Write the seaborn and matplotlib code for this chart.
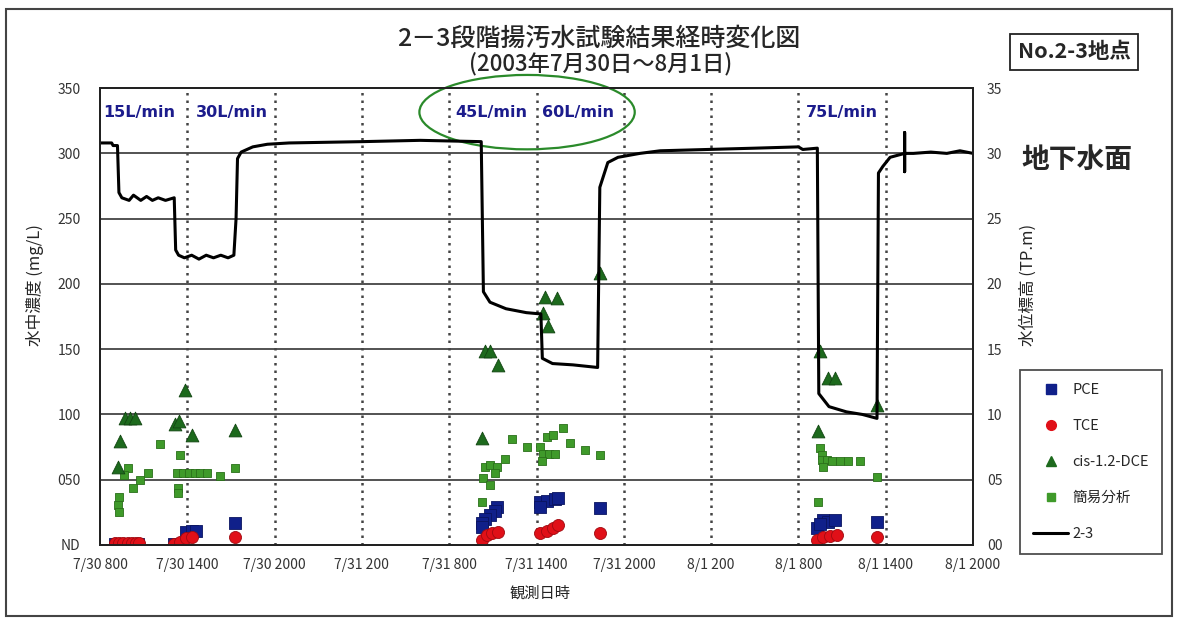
import pandas as pd
import matplotlib
matplotlib.use('Agg')
import matplotlib.pyplot as plt
from matplotlib.lines import Line2D
from matplotlib.patches import Ellipse, Rectangle
import seaborn as sns

# ---- data (x = hours counted from 7/30 8:00) ----
kani_h = [4.1, 5.5, 5.3, 5.7, 6.1, 6.5, 6.9, 7.35, 8.25, 9.3, 1.9, 1.65, 2.3, 2.75, 3.3, 1.3, 1.25, 1.3, 5.35, 5.35,
          28.3, 29.35, 27.85, 26.45, 26.8, 27.3, 27.15, 26.3, 26.8, 26.25,
          30.7, 31.1, 31.8, 30.25, 30.45, 30.85, 31.25, 30.4, 32.3, 33.3, 34.35,
          49.5, 49.6, 49.6, 49.95, 50.3, 50.85, 51.4, 49.7, 52.2, 53.4, 49.35]
kani_v = [77, 69, 55, 55, 55, 55, 55, 55, 53, 59, 59, 54, 44, 50, 55, 37, 31, 25, 44, 40,
          81, 75, 66, 60, 61, 60, 55, 51, 46, 33,
          83, 84, 90, 75, 70, 70, 70, 64, 78, 73, 69,
          74, 69, 65, 65, 64, 64, 64, 60, 64, 52, 33]

dce_h = [1.7, 2.05, 2.4, 1.35, 1.25, 5.85, 5.15, 5.4, 6.3, 9.3,
         26.45, 26.8, 27.35, 26.25, 30.6, 31.4, 30.45, 30.8, 34.35,
         49.5, 50.0, 50.5, 53.4, 49.35]
dce_v = [97, 97, 97, 80, 60, 119, 93, 95, 84, 88,
         149, 149, 138, 82, 190, 189, 178, 168, 208,
         149, 128, 128, 107, 87]

pce_h = [1.0, 1.4, 1.8, 2.2, 2.6, 5.1, 5.5, 5.9, 6.3, 6.6, 9.3,
         27.3, 27.15, 26.8, 26.45, 26.25, 26.25, 30.25, 30.7, 31.3, 31.5, 30.25, 34.35,
         49.7, 50.0, 50.5, 49.3, 49.5, 53.4]
pce_v = [1, 1, 1, 1, 1, 1, 1, 10, 11, 11, 17,
         29, 26, 23, 20, 17, 14, 33, 34, 35, 36, 29, 28,
         19, 18, 19, 13, 16, 18]

tce_h = [1.0, 1.3, 1.6, 1.9, 2.2, 2.5, 2.7, 5.1, 5.5, 5.9, 6.3, 9.3,
         26.25, 26.6, 26.95, 27.35, 30.25, 30.7, 31.15, 31.5, 34.35,
         49.3, 49.7, 50.15, 50.65, 53.4]
tce_v = [1.5, 1.5, 1.5, 1.5, 1.5, 1.5, 1.5, 0.5, 2, 5, 6, 6,
         4, 8, 9, 10, 9, 11, 13, 15, 9,
         4, 6, 7, 8, 6]

level_h = [0.0, 0.8, 0.9, 1.2, 1.3, 1.5, 2.0, 2.3, 2.8, 3.2, 3.6, 4.0, 4.5, 5.1,
           5.2, 5.4, 5.8, 6.3, 6.8, 7.3, 7.8, 8.3, 8.8, 9.2,
           9.35, 9.45, 9.7, 10.5, 11.5, 13.0, 18.0, 22.0, 26.2,
           26.35, 26.8, 27.9, 29.3, 30.3,
           30.4, 31.1, 32.5, 34.2,
           34.35, 34.9, 35.6, 37.1, 38.5, 45.0, 48.0, 48.3, 49.3,
           49.4, 50.1, 51.3, 52.4, 53.4,
           53.5, 53.8, 54.3, 55.3, 55.3, 55.3, 55.3, 55.9, 57.1, 58.2, 59.1, 60.0]
level_v = [30.8, 30.8, 30.6, 30.6, 27.0, 26.6, 26.4, 26.8, 26.4, 26.7, 26.4, 26.6, 26.4, 26.6,
           22.6, 22.2, 22.0, 22.2, 21.9, 22.2, 22.0, 22.2, 22.0, 22.2,
           25.0, 29.6, 30.1, 30.5, 30.7, 30.8, 30.9, 31.0, 30.9,
           19.4, 18.6, 18.1, 17.8, 17.7,
           14.3, 13.9, 13.8, 13.6,
           27.4, 29.3, 29.7, 30.0, 30.2, 30.4, 30.5, 30.3, 30.4,
           11.6, 10.6, 10.2, 10.0, 9.7,
           28.5, 29.0, 29.7, 30.0, 31.6, 28.6, 30.0, 30.0, 30.1, 30.0, 30.2, 30.0]

rate_labels = ['15L/min', '30L/min', '45L/min', '60L/min', '75L/min']
rate_h = [0.25, 6.6, 24.4, 30.4, 48.5]

xtick_h = [0, 6, 12, 18, 24, 30, 36, 42, 48, 54, 60]
xtick_labels = ['7/30 800', '7/30 1400', '7/30 2000', '7/31 200', '7/31 800', '7/31 1400',
                '7/31 2000', '8/1 200', '8/1 800', '8/1 1400', '8/1 2000']
yleft_ticks = [0, 50, 100, 150, 200, 250, 300, 350]
yleft_labels = ['ND', '050', '100', '150', '200', '250', '300', '350']
yright_ticks = [0, 5, 10, 15, 20, 25, 30, 35]
yright_labels = ['00', '05', '10', '15', '20', '25', '30', '35']

sns.set_style('white')
plt.rcParams['font.family'] = ['Noto Sans CJK JP', 'DejaVu Sans']

fig = plt.figure(figsize=(11.78, 6.25), dpi=100)
ax = fig.add_axes([0.0849, 0.128, 0.7411, 0.731])

# grid lines
for y in [50, 100, 150, 200, 250, 300]:
    ax.axhline(y, color='#444444', lw=1.3, zorder=1)
for x in xtick_h[1:-1]:
    ax.axvline(x, color='#444444', lw=1.8, ls=(0, (1, 2)), zorder=1)

series = [
    ('簡易分析', kani_h, kani_v, 's', '#3f9a2a', '#2a6f1a', 40),
    ('cis-1.2-DCE', dce_h, dce_v, '^', '#1d6a1d', '#124512', 85),
    ('PCE', pce_h, pce_v, 's', '#10208a', '#0a1460', 75),
    ('TCE', tce_h, tce_v, 'o', '#e01018', '#a00a10', 75),
]
for name, hh, vv, mk, col, edge, sz in series:
    d = pd.DataFrame({'h': hh, 'v': vv})
    sns.scatterplot(data=d, x='h', y='v', ax=ax, marker=mk, color=col, edgecolor=edge,
                    linewidth=0.6, s=sz, zorder=3, legend=False)

ax.set_xlim(0, 60)
ax.set_ylim(0, 350)
ax.set_xticks(xtick_h)
ax.set_xticklabels(xtick_labels)
ax.set_yticks(yleft_ticks)
ax.set_yticklabels(yleft_labels)
ax.set_xlabel('')
ax.set_ylabel('')
ax.tick_params(axis='both', length=0, labelsize=10, labelcolor='#333333')
ax.tick_params(axis='y', pad=14)
ax.tick_params(axis='x', pad=9)
for sp in ax.spines.values():
    sp.set_color('#222222')
    sp.set_linewidth(1.4)

# flow rate labels
for lab, h in zip(rate_labels, rate_h):
    ax.text(h, 331, lab, color='#1c1c8c', fontweight='bold', fontsize=11.5, va='center', ha='left',
            family=['DejaVu Sans'], zorder=4)

ax.add_patch(Ellipse((29.35, 331.6), 14.8, 57, fill=False, edgecolor='#2a8a2a', lw=1.6,
                     clip_on=False, zorder=5))

# water level on right axis
ax2 = ax.twinx()
sns.lineplot(x=level_h, y=level_v, ax=ax2, color='black', lw=2.2, sort=False, estimator=None)
ax2.set_ylim(0, 35)
ax2.set_xlim(0, 60)
ax2.set_yticks(yright_ticks)
ax2.set_yticklabels(yright_labels)
ax2.tick_params(axis='y', length=0, labelsize=10, labelcolor='#333333', pad=10)
ax2.set_ylabel('')
for sp in ax2.spines.values():
    sp.set_color('#222222')
    sp.set_linewidth(1.4)

# texts around the plot
fig.text(0.508, 0.938, '2－3段階揚汚水試験結果経時変化図', ha='center', va='center',
         fontsize=18, fontweight='medium')
fig.text(0.51, 0.899, '(2003年7月30日～8月1日)', ha='center', va='center', fontsize=16,
         fontweight='medium')
fig.text(0.912, 0.917, 'No.2-3地点', ha='center', va='center', fontsize=15.5, fontweight='bold',
         bbox=dict(boxstyle='square,pad=0.35', fc='white', ec='#222222', lw=1.3))
fig.text(0.867, 0.744, '地下水面', ha='left', va='center', fontsize=20, fontweight='bold')
fig.text(0.030, 0.544, '水中濃度 (mg/L)', rotation=90, ha='center', va='center', fontsize=12)
fig.text(0.873, 0.544, '水位標高 (TP.m)', rotation=90, ha='center', va='center', fontsize=12)
fig.text(0.458, 0.051, '観測日時', ha='center', va='center', fontsize=11)

handles = [
    Line2D([], [], ls='', marker='s', color='#10208a', markersize=7),
    Line2D([], [], ls='', marker='o', color='#e01018', markersize=7),
    Line2D([], [], ls='', marker='^', color='#1d6a1d', markersize=7),
    Line2D([], [], ls='', marker='s', color='#3f9a2a', markersize=6),
    Line2D([], [], color='black', lw=2.2),
]
leg = fig.legend(handles, ['PCE', 'TCE', 'cis-1.2-DCE', '簡易分析', '2-3'],
                 loc='upper left', bbox_to_anchor=(0.866, 0.408), fontsize=10.5,
                 labelspacing=1.5, handlelength=2.4, handletextpad=0.3, borderpad=0.9,
                 borderaxespad=0.0, fancybox=False, frameon=True)
leg.get_frame().set_edgecolor('#222222')
leg.get_frame().set_linewidth(1.3)

fig.patches.append(Rectangle((0.005, 0.015), 0.99, 0.97, transform=fig.transFigure,
                             fill=False, edgecolor='#444444', lw=1.5))

fig.savefig('out.png', dpi=100)
